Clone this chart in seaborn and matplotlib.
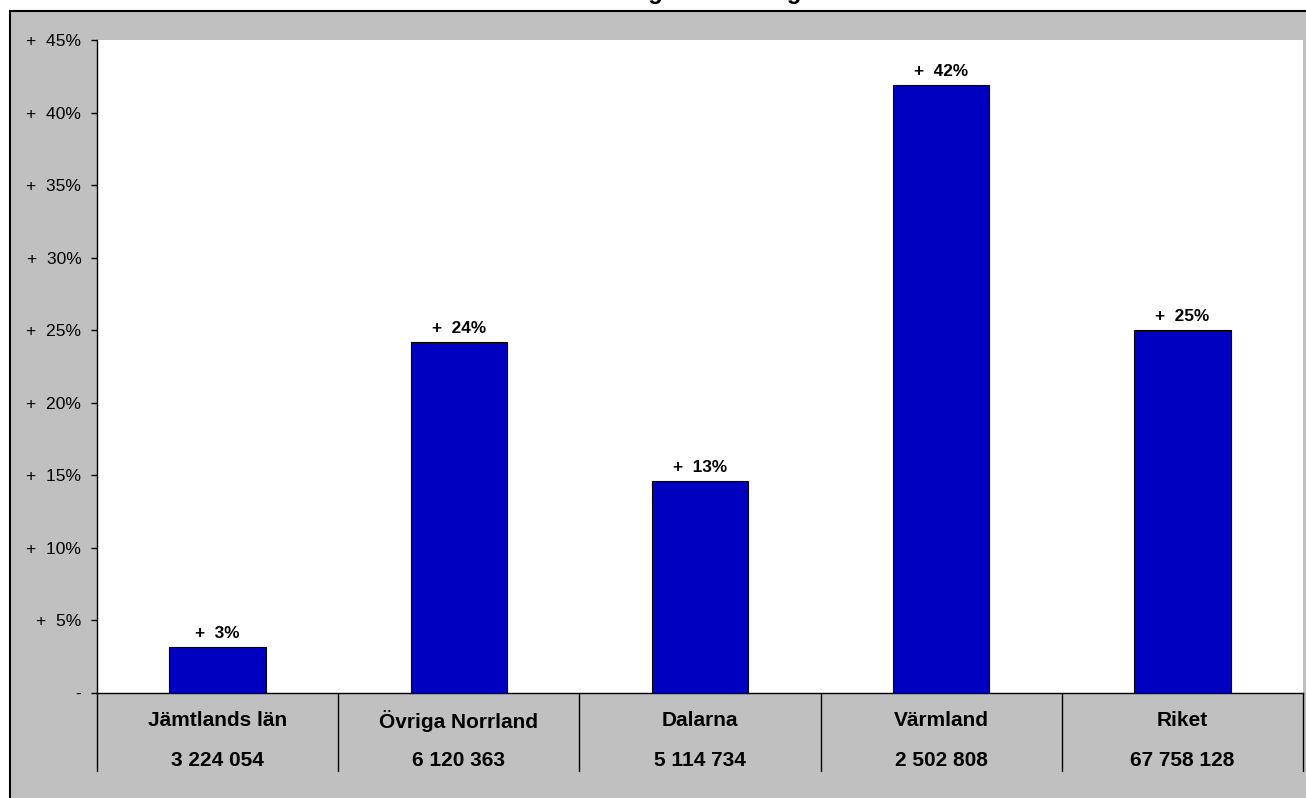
import matplotlib
matplotlib.use("Agg")
import numpy as np
import pandas as pd
import seaborn as sns
import matplotlib.pyplot as plt
import matplotlib.transforms as mtransforms
from matplotlib.patches import Rectangle
from matplotlib.lines import Line2D

# ---- data ----
categories = ["Jämtlands län", "Övriga Norrland", "Dalarna", "Värmland", "Riket"]
totals = [3224054, 6120363, 5114734, 2502808, 67758128]
change_pct = [3.2, 24.2, 14.6, 41.9, 25.0]
bar_labels = ["+  3%", "+  24%", "+  13%", "+  42%", "+  25%"]
y_ticks = [0, 5, 10, 15, 20, 25, 30, 35, 40, 45]
title_text = "Förändring av antalet gästnätter"

sns.set_theme(style="white")
plt.rcParams["font.family"] = ["Liberation Sans", "DejaVu Sans"]
plt.rcParams["text.color"] = "black"
plt.rcParams["axes.labelcolor"] = "black"
plt.rcParams["xtick.color"] = "black"
plt.rcParams["ytick.color"] = "black"

W, H = 1306, 798
fig = plt.figure(figsize=(W / 100, H / 100), dpi=100, facecolor="white")

# grey chart area with black top/left border
fig.patches.append(Rectangle((10 / W, -0.2), 1.3, (H - 11) / H + 0.2,
                             transform=fig.transFigure, facecolor="#C0C0C0",
                             edgecolor="black", linewidth=1.5, zorder=-1))

# title (cropped at the top edge in the reference; only descenders show)
fig.text(536 / W, (H + 0.5) / H, title_text, fontsize=17.3, fontweight="bold",
         ha="left", va="baseline", color="black")

ax = fig.add_axes([97 / W, (H - 693) / H, 1206 / W, 653 / H])
df = pd.DataFrame({"cat": categories, "pct": change_pct})
sns.barplot(data=df, x="cat", y="pct", color="#0000C0", saturation=1,
            width=0.4, edgecolor="black", linewidth=0.8, ax=ax)

ax.set_xlim(-0.5, 4.5)
ax.set_ylim(0, 45)
ax.set_facecolor("white")
ax.grid(False)
for s in ["top", "right"]:
    ax.spines[s].set_visible(False)
for s in ["left", "bottom"]:
    ax.spines[s].set_color("black")
    ax.spines[s].set_linewidth(1.0)

ax.set_yticks(y_ticks)
ylabels = ["-" if t == 0 else "+  %d%%" % t for t in y_ticks]
ax.set_yticklabels(ylabels)
ax.tick_params(axis="y", direction="out", length=4.3, width=1, color="black",
               labelsize=12.6, pad=7, left=True, labelcolor="black")
ax.tick_params(axis="x", length=0, labelbottom=False)
ax.set_xlabel("")
ax.set_ylabel("")

trans = mtransforms.blended_transform_factory(ax.transData, ax.transAxes)
for i, (c, n) in enumerate(zip(categories, totals)):
    ax.text(i, -28 / 653, c, transform=trans, ha="center", va="center",
            fontsize=15, fontweight="bold", clip_on=False, color="black")
    ax.text(i, -68 / 653, f"{n:,}".replace(",", " "), transform=trans,
            ha="center", va="center", fontsize=15, fontweight="bold",
            clip_on=False, color="black")
for b in np.arange(-0.5, len(categories), 1.0):
    ax.add_line(Line2D([b, b], [0, -78 / 653], transform=trans, color="black",
                       lw=1.0, clip_on=False))

for p, lab in zip(ax.patches, bar_labels):
    ax.annotate(lab, (p.get_x() + p.get_width() / 2, p.get_height()),
                xytext=(0, 6.5), textcoords="offset points", ha="center",
                va="baseline", fontsize=12.4, fontweight="bold", color="black")

fig.savefig("out.png", dpi=100, facecolor=fig.get_facecolor())
